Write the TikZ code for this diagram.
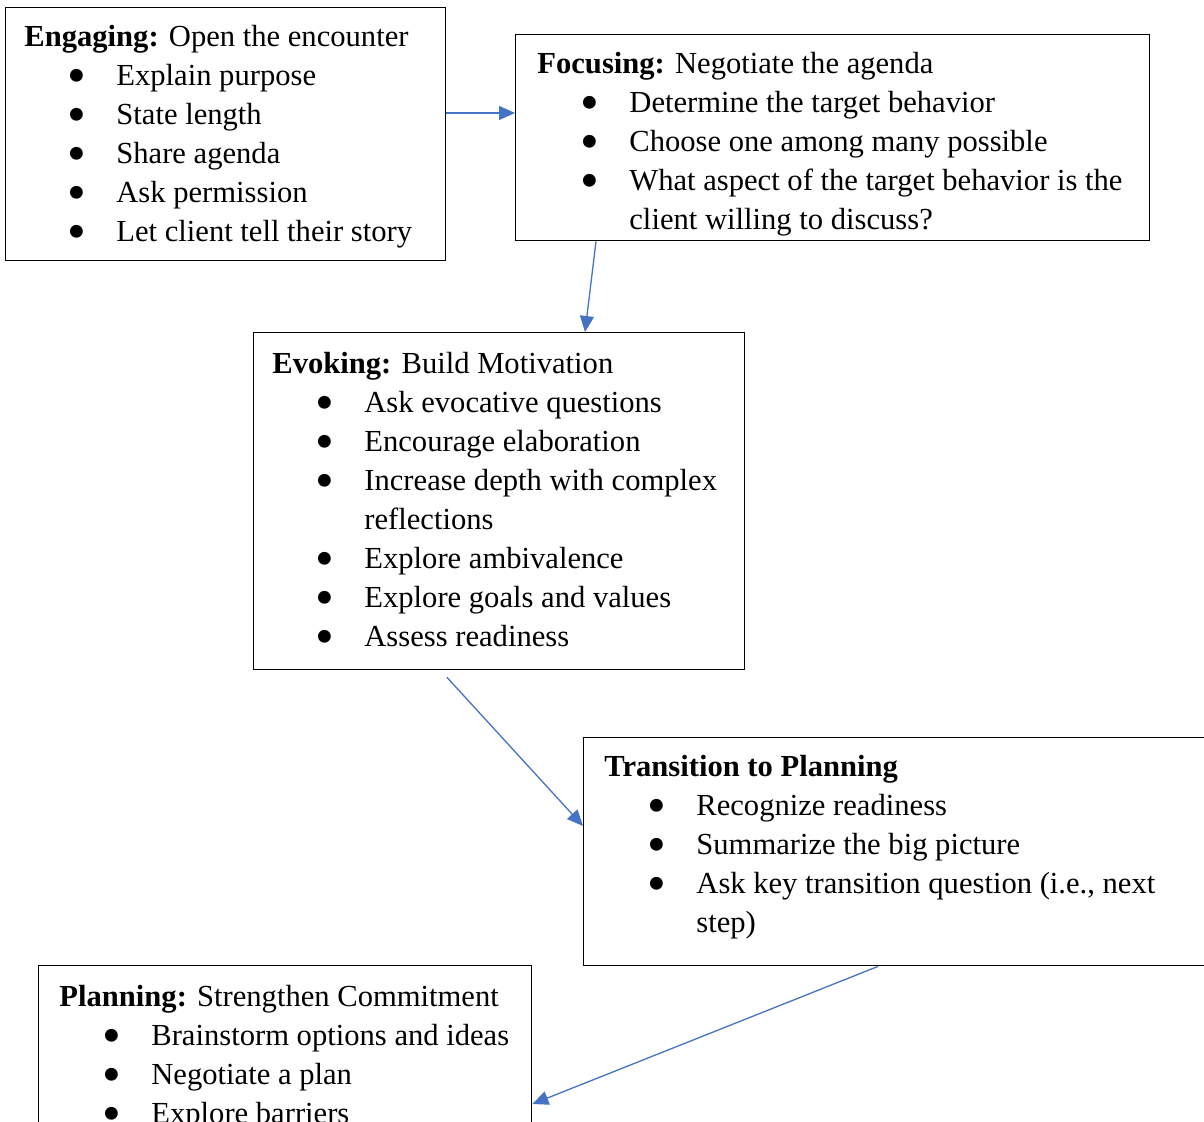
\documentclass[tikz,border=0pt]{standalone}
\usepackage{fontspec}
\setmainfont{Liberation Serif}
\usetikzlibrary{arrows.meta}
\definecolor{arrblue}{HTML}{4472C4}
\newcommand{\bl}{\makebox[46pt][l]{\hspace{21.4pt}\smash{\raisebox{-4pt}{\scalebox{1.75}{\textbullet}}}}}
\newcommand{\hd}[1]{\multicolumn{2}{@{}l@{}}{#1}}
\begin{document}
\begin{tikzpicture}[x=0.5pt,y=-0.5pt,
  box/.style={draw=black, line width=0.7pt, anchor=north west, inner sep=0pt},
  txt/.style={anchor=base west, inner sep=0pt, font=\fontsize{15.3pt}{19.5pt}\selectfont},
  arr/.style={draw=arrblue, line width=0.65pt, -{Triangle[length=8pt,width=7pt]}}]
\useasboundingbox (0,0) rectangle (1204,1122);
\clip (0,0) rectangle (1204,1122);
\node[box, minimum width=220pt, minimum height=126.5pt] (eng) at (5,7) {};
\node[box, minimum width=317pt, minimum height=103pt] (foc) at (515,34) {};
\node[box, minimum width=245.5pt, minimum height=168.5pt] (evo) at (253,332) {};
\node[box, minimum width=316pt, minimum height=114pt] (trans) at (583,737) {};
\node[box, minimum width=246.5pt, minimum height=117.5pt] (plan) at (38,965) {};

\node[txt] (engT) at (24,47) {\begin{tabular}[t]{@{}l@{}l@{}}
\hd{\textbf{Engaging:} Open the encounter}\\
\bl & Explain purpose\\
\bl & State length\\
\bl & Share agenda\\
\bl & Ask permission\\
\bl & Let client tell their story
\end{tabular}};
\node[txt] (focT) at (537,74) {\begin{tabular}[t]{@{}l@{}l@{}}
\hd{\textbf{Focusing:} Negotiate the agenda}\\
\bl & Determine the target behavior\\
\bl & Choose one among many possible\\
\bl & What aspect of the target behavior is the\\
 & client willing to discuss?
\end{tabular}};
\node[txt] (evoT) at (272,374) {\begin{tabular}[t]{@{}l@{}l@{}}
\hd{\textbf{Evoking:} Build Motivation}\\
\bl & Ask evocative questions\\
\bl & Encourage elaboration\\
\bl & Increase depth with complex\\
 & reflections\\
\bl & Explore ambivalence\\
\bl & Explore goals and values\\
\bl & Assess readiness
\end{tabular}};
\node[txt] (transT) at (604,776) {\begin{tabular}[t]{@{}l@{}l@{}}
\hd{\textbf{Transition to Planning}}\\
\bl & Recognize readiness\\
\bl & Summarize the big picture\\
\bl & Ask key transition question (i.e., next\\
 & step)
\end{tabular}};
\node[txt] (planT) at (59,1006) {\begin{tabular}[t]{@{}l@{}l@{}}
\hd{\textbf{Planning:} Strengthen Commitment}\\
\bl & Brainstorm options and ideas\\
\bl & Negotiate a plan\\
\bl & Explore barriers
\end{tabular}};

\draw[arr] (eng.east |- 0,113) -- (foc.west |- 0,113);
\draw[arr] (foc.south -| 596,0) -- (evo.north -| 585,0);
\draw[arr, shorten <=4.7pt] (evo.south -| 440.6,0) -- (trans.west |- 0,826);
\draw[arr] (trans.south -| 878,0) -- (plan.east |- 0,1104);
\end{tikzpicture}
\end{document}
